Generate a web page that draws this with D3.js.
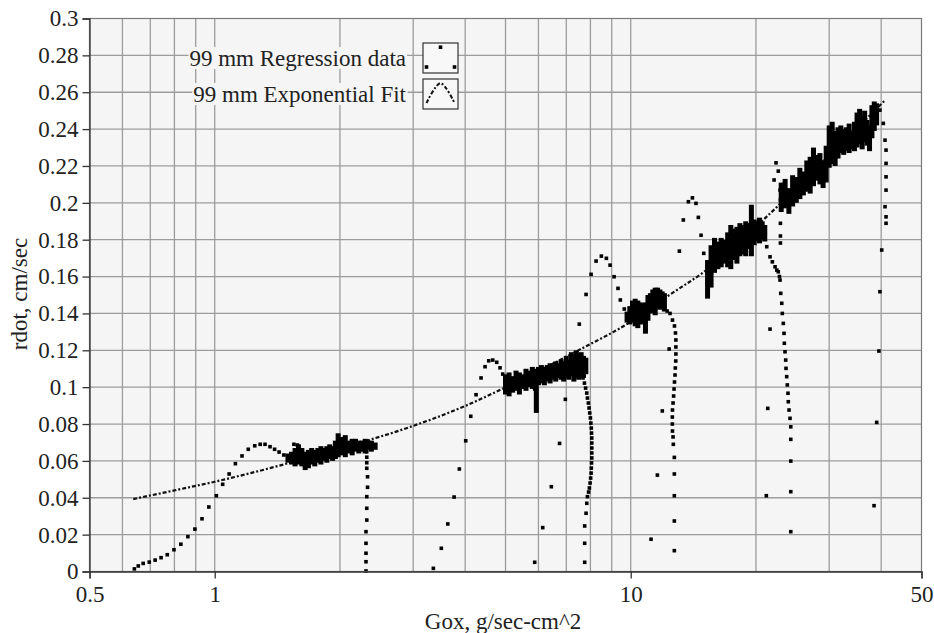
<!DOCTYPE html>
<html>
<head>
<meta charset="utf-8">
<script src="https://cdn.jsdelivr.net/npm/d3@7"></script>
<style>
  body { margin: 0; background: #fff; }
</style>
</head>
<body>
<div id="chart"></div>
<script>
// ticks
var yTicks = [0, 0.02, 0.04, 0.06, 0.08, 0.1, 0.12, 0.14, 0.16, 0.18, 0.2, 0.22, 0.24, 0.26, 0.28, 0.3];
var yTickLabels = ['0', '0.02', '0.04', '0.06', '0.08', '0.1', '0.12', '0.14', '0.16', '0.18', '0.2', '0.22', '0.24', '0.26', '0.28', '0.3'];
var xTicks = [0.5, 1, 10, 50];
var xTickLabels = ['0.5', '1', '10', '50'];
var xGrid = [0.6, 0.7, 0.8, 0.9, 1, 2, 3, 4, 5, 6, 7, 8, 9, 10, 20, 30, 40];

var legendLabels = ['99 mm Regression data', '99 mm Exponential Fit'];

// 99 mm Exponential Fit  [Gox, rdot]
var fitPts = [[0.637, 0.0393], [0.8, 0.0440], [1.0, 0.0487], [1.5, 0.0587], [2.0, 0.0668], [2.8, 0.0767],
    [4.0, 0.0898], [5.0, 0.0999], [7.5, 0.1201], [10, 0.1355], [12.2, 0.1490], [15.2, 0.1635],
    [21.2, 0.1924], [30, 0.2258], [40.9, 0.2557]];

// 99 mm Regression data, single points [Gox, rdot]
var rise1 = [[0.641, 0.0014], [0.655, 0.0030], [0.673, 0.0044], [0.696, 0.0051], [0.719, 0.0062], [0.743, 0.0075],
    [0.769, 0.0091], [0.798, 0.0118], [0.829, 0.0148], [0.862, 0.0189], [0.896, 0.0230], [0.932, 0.0286],
    [0.968, 0.0350], [1.009, 0.0411], [1.045, 0.0473], [1.083, 0.0529], [1.121, 0.0585], [1.163, 0.0627],
    [1.204, 0.0663], [1.248, 0.0682], [1.286, 0.0690], [1.321, 0.0690], [1.358, 0.0677], [1.393, 0.0663],
    [1.428, 0.0648], [1.466, 0.0632], [1.50, 0.0620], [1.55, 0.0690], [1.58, 0.0686]];
var drop1 = [[2.32, 0.068], [2.32, 0.065], [2.32, 0.062], [2.32, 0.059], [2.32, 0.056], [2.33, 0.0514],
    [2.33, 0.0457], [2.32, 0.0406], [2.32, 0.0343], [2.32, 0.0279], [2.31, 0.0216], [2.31, 0.0153],
    [2.31, 0.0099], [2.31, 0.0053], [2.31, 0.0003]];

var rise2 = [[3.354, 0.0017], [3.505, 0.0126], [3.633, 0.0258], [3.762, 0.0404], [3.873, 0.0556], [4.012, 0.0709],
    [4.125, 0.0842], [4.248, 0.0959], [4.367, 0.1050], [4.465, 0.1111], [4.557, 0.1143], [4.659, 0.1147],
    [4.763, 0.1135], [4.851, 0.1105], [4.924, 0.1071], [4.987, 0.1044]];
var drop2 = [[7.63, 0.1075], [7.68, 0.1050], [7.74, 0.1022], [7.79, 0.0995], [7.84, 0.0968], [7.87, 0.0941],
    [7.91, 0.0914], [7.94, 0.0887], [7.97, 0.0860], [8.00, 0.0833], [8.02, 0.0805], [8.04, 0.0778],
    [8.05, 0.0751], [8.06, 0.0724], [8.06, 0.0697], [8.06, 0.0670], [8.06, 0.0643], [8.06, 0.0616],
    [8.05, 0.0589], [8.04, 0.0561], [8.03, 0.0534], [8.01, 0.0507], [7.985, 0.0480], [7.955, 0.0453],
    [7.92, 0.0431], [7.87, 0.0406], [7.84, 0.0370], [7.81, 0.0316], [7.75, 0.0247], [7.75, 0.0153], [7.75, 0.0050]];

var rise3 = [[5.877, 0.0050], [6.144, 0.0238], [6.444, 0.0460], [6.744, 0.0695], [6.964, 0.0934], [7.522, 0.1342],
    [7.81, 0.1503], [8.03, 0.1612], [8.255, 0.1684], [8.50, 0.1711], [8.74, 0.1699], [8.92, 0.1662],
    [9.12, 0.1599], [9.32, 0.1536], [9.44, 0.1473], [9.65, 0.1424], [9.83, 0.1382]];
var drop3 = [[11.97, 0.1436], [12.23, 0.1413], [12.43, 0.1400], [12.60, 0.1364], [12.74, 0.1332], [12.81, 0.1294],
    [12.84, 0.1256], [12.84, 0.1218], [12.84, 0.1180], [12.83, 0.1142], [12.80, 0.1104], [12.78, 0.1066],
    [12.74, 0.1028], [12.71, 0.0990], [12.68, 0.0952], [12.64, 0.0914], [12.60, 0.0876], [12.59, 0.0838],
    [12.59, 0.0800], [12.60, 0.0762], [12.64, 0.0730], [12.66, 0.0690], [12.73, 0.0619], [12.73, 0.0529],
    [12.73, 0.0411], [12.73, 0.0274], [12.73, 0.0113]];

var rise4 = [[11.19, 0.0175], [11.59, 0.0523], [11.91, 0.0871], [12.37, 0.1207], [13.09, 0.1738], [13.38, 0.1907],
    [13.76, 0.2006], [14.07, 0.2027], [14.35, 0.1997], [14.54, 0.1921], [14.76, 0.1824], [14.98, 0.1726],
    [15.28, 0.1563]];
var drop4 = [[21.03, 0.1852], [21.23, 0.1762], [21.62, 0.1707], [21.9, 0.1680], [22.23, 0.1653], [22.45, 0.1635],
    [22.63, 0.1626], [22.78, 0.1600], [22.85, 0.1581], [22.94, 0.1509], [23.07, 0.1455], [23.14, 0.1400],
    [23.27, 0.1346], [23.36, 0.1292], [23.40, 0.1238], [23.49, 0.1192], [23.58, 0.1147], [23.62, 0.1102],
    [23.71, 0.1057], [23.79, 0.1012], [23.88, 0.0967], [23.92, 0.0921], [24.02, 0.0876], [24.15, 0.0831],
    [24.25, 0.0785], [24.25, 0.0717], [24.25, 0.0599], [24.25, 0.0433], [24.25, 0.0216]];

var rise5 = [[21.18, 0.0411], [21.35, 0.0885], [21.62, 0.1315], [22.11, 0.2124], [22.35, 0.2217], [22.63, 0.2172],
    [22.85, 0.2069], [22.9, 0.2015], [22.9, 0.1889], [22.9, 0.1820], [22.9, 0.1782]];
var drop5 = [[39.72, 0.2503], [40.47, 0.2431], [40.86, 0.2340], [41.09, 0.2286], [41.09, 0.2214], [41.09, 0.2141],
    [41.09, 0.2069], [40.86, 0.1979], [41.09, 0.1924], [41.09, 0.1889], [40.12, 0.1744], [39.72, 0.1518],
    [39.5, 0.1196], [39.02, 0.0809], [38.45, 0.0357]];

// 99 mm Regression data, dense stretches [Gox, lowest rdot, highest rdot]
var band1 = [[1.50, 0.060, 0.063], [1.53, 0.059, 0.064], [1.56, 0.058, 0.066], [1.59, 0.059, 0.068], [1.62, 0.058, 0.066],
    [1.65, 0.056, 0.064], [1.68, 0.057, 0.065], [1.71, 0.059, 0.066], [1.74, 0.058, 0.065], [1.77, 0.060, 0.066],
    [1.80, 0.059, 0.067], [1.83, 0.061, 0.066], [1.86, 0.060, 0.067], [1.89, 0.062, 0.068], [1.92, 0.061, 0.067],
    [1.95, 0.062, 0.070], [1.98, 0.063, 0.074], [2.02, 0.064, 0.072], [2.06, 0.063, 0.073], [2.10, 0.065, 0.070],
    [2.14, 0.064, 0.071], [2.18, 0.066, 0.071], [2.22, 0.065, 0.070], [2.26, 0.066, 0.070], [2.30, 0.065, 0.071],
    [2.34, 0.067, 0.070], [2.38, 0.066, 0.070], [2.43, 0.067, 0.069]];
var band2 = [[5.0, 0.097, 0.106], [5.1, 0.096, 0.107], [5.2, 0.098, 0.105], [5.3, 0.099, 0.108], [5.4, 0.097, 0.107],
    [5.5, 0.100, 0.106], [5.6, 0.099, 0.109], [5.7, 0.101, 0.108], [5.8, 0.100, 0.110], [5.9, 0.099, 0.109],
    [5.93, 0.087, 0.100], [6.0, 0.102, 0.110], [6.1, 0.103, 0.111], [6.2, 0.102, 0.110], [6.3, 0.104, 0.111],
    [6.4, 0.103, 0.112], [6.5, 0.105, 0.111], [6.6, 0.104, 0.113], [6.7, 0.106, 0.112], [6.8, 0.105, 0.114],
    [6.9, 0.104, 0.113], [7.0, 0.106, 0.116], [7.1, 0.105, 0.114], [7.2, 0.107, 0.118], [7.3, 0.104, 0.116],
    [7.4, 0.106, 0.119], [7.5, 0.105, 0.117], [7.6, 0.107, 0.118], [7.7, 0.106, 0.116], [7.8, 0.108, 0.115]];
var band3 = [[9.80, 0.136, 0.140], [9.95, 0.135, 0.143], [10.1, 0.136, 0.146], [10.25, 0.134, 0.147], [10.4, 0.133, 0.146],
    [10.55, 0.135, 0.145], [10.7, 0.136, 0.144], [10.85, 0.130, 0.145], [11.0, 0.137, 0.149], [11.15, 0.141, 0.150],
    [11.3, 0.142, 0.152], [11.45, 0.140, 0.153], [11.6, 0.144, 0.153], [11.75, 0.143, 0.152], [11.9, 0.144, 0.151],
    [12.05, 0.142, 0.150]];
var band4 = [[15.3, 0.149, 0.168], [15.6, 0.155, 0.176], [15.9, 0.163, 0.180], [16.2, 0.165, 0.178], [16.5, 0.166, 0.180],
    [16.8, 0.168, 0.179], [17.1, 0.166, 0.183], [17.4, 0.165, 0.187], [17.7, 0.170, 0.185], [18.0, 0.168, 0.186],
    [18.3, 0.172, 0.188], [18.6, 0.173, 0.187], [18.9, 0.172, 0.189], [19.2, 0.176, 0.188], [19.5, 0.172, 0.198],
    [19.8, 0.178, 0.190], [20.1, 0.180, 0.189], [20.4, 0.179, 0.191], [20.7, 0.181, 0.189], [21.0, 0.180, 0.187]];
var band5 = [[23.0, 0.196, 0.210], [23.5, 0.198, 0.212], [24.0, 0.195, 0.207], [24.5, 0.199, 0.214], [25.0, 0.201, 0.213],
    [25.5, 0.203, 0.218], [26.0, 0.205, 0.216], [26.5, 0.207, 0.222], [27.0, 0.206, 0.224], [27.5, 0.210, 0.229],
    [28.0, 0.213, 0.225], [28.5, 0.211, 0.226], [29.0, 0.209, 0.222], [29.5, 0.212, 0.230], [30.0, 0.220, 0.241],
    [30.5, 0.222, 0.243], [31.0, 0.221, 0.238], [31.5, 0.225, 0.240], [32.0, 0.228, 0.241], [32.5, 0.227, 0.239],
    [33.0, 0.229, 0.240], [33.5, 0.228, 0.242], [34.0, 0.230, 0.238], [34.5, 0.229, 0.243], [35.0, 0.231, 0.248],
    [35.5, 0.233, 0.250], [36.0, 0.230, 0.246], [36.5, 0.234, 0.249], [37.0, 0.232, 0.244], [37.5, 0.229, 0.241],
    [38.0, 0.236, 0.252], [38.5, 0.240, 0.254], [39.0, 0.243, 0.253]];

var points = [].concat(rise1, drop1, rise2, drop2, rise3, drop3, rise4, drop4, rise5, drop5);
var bands = [].concat(band1, band2, band3, band4, band5);

var margin = {
    top: 18.5,
    right: 12.5,
    bottom: 61.5,
    left: 89.5
}

var width = 934 - margin.left - margin.right,
    height = 633 - margin.top - margin.bottom,
    dot = 3.6,
    bandWidth = 5,
    fontSize = 23,
    font = '"Liberation Serif", "Times New Roman", serif',
    bg = '#f5f5f5',
    gridColor = '#9c9c9c';

var xScale = d3.scaleLog()
    .domain([0.5, 50])
    .range([0, width])

var yScale = d3.scaleLinear()
    .domain([0, 0.3])
    .range([height, 0])

var svg = d3.select('#chart').append('svg')
    .attr('width', 934)
    .attr('height', 633)
    .style('display', 'block')
    .style('background', '#fff')

var plot = svg.append('g')
    .attr('transform', 'translate(' + margin.left + ', ' + margin.top + ')')

plot.append('rect')
    .attr('width', width)
    .attr('height', height)
    .attr('fill', bg)

// grid
plot.selectAll('.vgrid').data(xGrid)
    .enter().append('line')
    .attr('x1', function (d) { return xScale(d); })
    .attr('x2', function (d) { return xScale(d); })
    .attr('y1', 0)
    .attr('y2', height)
    .attr('stroke', gridColor)
    .attr('stroke-width', 1.3)

plot.selectAll('.hgrid').data(yTicks.slice(1, -1))
    .enter().append('line')
    .attr('x1', 0)
    .attr('x2', width)
    .attr('y1', function (d) { return yScale(d); })
    .attr('y2', function (d) { return yScale(d); })
    .attr('stroke', gridColor)
    .attr('stroke-width', 1.3)

// exponential fit
var fitLine = d3.line()
    .x(function (d) { return xScale(d[0]); })
    .y(function (d) { return yScale(d[1]); })
    .curve(d3.curveMonotoneX)

plot.append('path')
    .datum(fitPts)
    .attr('d', fitLine)
    .attr('fill', 'none')
    .attr('stroke', '#111')
    .attr('stroke-width', 2.2)
    .attr('stroke-dasharray', '4,2,2,2')

// regression data
plot.selectAll('.band').data(bands)
    .enter().append('rect')
    .attr('x', function (d) { return xScale(d[0]) - bandWidth / 2; })
    .attr('y', function (d) { return yScale(d[2]) - dot / 2; })
    .attr('width', bandWidth)
    .attr('height', function (d) { return yScale(d[1]) - yScale(d[2]) + dot; })
    .attr('fill', '#000')

plot.selectAll('.pt').data(points)
    .enter().append('rect')
    .attr('x', function (d) { return xScale(d[0]) - dot / 2; })
    .attr('y', function (d) { return yScale(d[1]) - dot / 2; })
    .attr('width', dot)
    .attr('height', dot)
    .attr('fill', '#000')

// frame
plot.append('rect')
    .attr('width', width)
    .attr('height', height)
    .attr('fill', 'none')
    .attr('stroke', '#7a7a7a')
    .attr('stroke-width', 1.2)

// axes
var yAxis = d3.axisLeft(yScale)
    .tickValues(yTicks)
    .tickFormat(function (d, i) { return yTickLabels[i]; })
    .tickSize(7)
    .tickPadding(4)

var yGuide = plot.append('g').call(yAxis)
yGuide.selectAll('text')
    .attr('font-family', font)
    .attr('font-size', fontSize)
    .attr('fill', '#222')
yGuide.selectAll('path, line')
    .attr('stroke', '#333')
    .attr('stroke-width', 1.3)

var xAxis = d3.axisBottom(xScale)
    .tickValues(xTicks)
    .tickFormat(function (d, i) { return xTickLabels[i]; })
    .tickSize(7)
    .tickPadding(7)

var xGuide = plot.append('g')
    .attr('transform', 'translate(0, ' + height + ')')
    .call(xAxis)
xGuide.selectAll('text')
    .attr('font-family', font)
    .attr('font-size', fontSize)
    .attr('fill', '#222')
xGuide.selectAll('path, line')
    .attr('stroke', '#333')
    .attr('stroke-width', 1.3)

// axis titles
svg.append('text')
    .attr('x', 503)
    .attr('y', 629)
    .attr('text-anchor', 'middle')
    .attr('font-family', font)
    .attr('font-size', fontSize)
    .attr('fill', '#222')
    .text('Gox, g/sec-cm^2')

svg.append('text')
    .attr('transform', 'translate(27, 294) rotate(-90)')
    .attr('text-anchor', 'middle')
    .attr('font-family', font)
    .attr('font-size', fontSize)
    .attr('fill', '#222')
    .text('rdot, cm/sec')

// legend
var legend = svg.append('g')
    .attr('transform', 'translate(406, 58)')

var rows = legend.selectAll('.row').data(legendLabels)
    .enter().append('g')
    .attr('transform', function (d, i) { return 'translate(0, ' + i * 36 + ')'; })

rows.append('text')
    .attr('text-anchor', 'end')
    .attr('dy', '0.33em')
    .attr('font-family', font)
    .attr('font-size', fontSize)
    .attr('fill', '#222')
    .text(function (d) { return d; })
    .each(function () {
        var b = this.getBBox();
        d3.select(this.parentNode).insert('rect', 'text')
            .attr('x', b.x - 1)
            .attr('y', -11)
            .attr('width', b.width + 2)
            .attr('height', 22)
            .attr('fill', bg)
    })

rows.append('rect')
    .attr('x', 17)
    .attr('y', -15)
    .attr('width', 35)
    .attr('height', 30)
    .attr('fill', '#f8f8f8')
    .attr('stroke', '#333')
    .attr('stroke-width', 1.2)

// legend samples
var sample = [[0.1, 0.3], [0.5, -0.36], [0.9, 0.3]];
d3.select(rows.nodes()[0]).selectAll('.s').data(sample)
    .enter().append('rect')
    .attr('x', function (d) { return 17 + d[0] * 35 - dot / 2; })
    .attr('y', function (d) { return d[1] * 30 - dot / 2; })
    .attr('width', dot)
    .attr('height', dot)
    .attr('fill', '#000')

d3.select(rows.nodes()[1]).append('path')
    .datum(sample)
    .attr('d', d3.line()
        .x(function (d) { return 17 + d[0] * 35; })
        .y(function (d) { return d[1] * 30; })
        .curve(d3.curveCardinal))
    .attr('fill', 'none')
    .attr('stroke', '#111')
    .attr('stroke-width', 2)
    .attr('stroke-dasharray', '4,2,2,2')
</script>
</body>
</html>
